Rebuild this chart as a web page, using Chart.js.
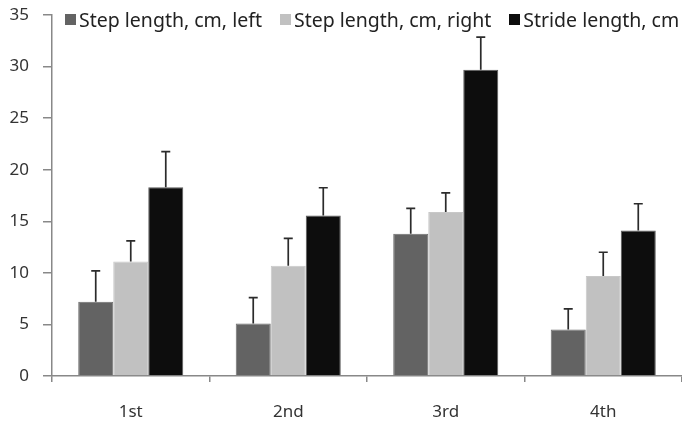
<!DOCTYPE html>
<html>
<head>
<meta charset="utf-8">
<script src="https://cdn.jsdelivr.net/npm/chart.js@4/dist/chart.umd.min.js"></script>
<style>
  html, body { margin: 0; padding: 0; background: #fff; }
  #wrap { position: relative; width: 682px; height: 422px; }
  #legend { position: absolute; left: 65px; top: 6px; display: flex; font: 19.5px "Noto Sans", sans-serif; color: #222; white-space: nowrap; }
  #legend span.item { display: flex; align-items: center; margin-right: 18px; }
  #legend i { display: inline-block; width: 11px; height: 11px; margin-right: 3px; }
</style>
</head>
<body>
<div id="wrap">
  <canvas id="c" width="682" height="422"></canvas>
  <div id="legend"></div>
</div>
<script>
const categories = ['1st', '2nd', '3rd', '4th'];
const seriesNames = ['Step length, cm, left', 'Step length, cm, right', 'Stride length, cm'];
const stepLeft = [7.2, 5.1, 13.8, 4.5];
const stepLeftErr = [3.0, 2.5, 2.45, 2.0];
const stepRight = [11.1, 10.7, 15.9, 9.7];
const stepRightErr = [2.0, 2.65, 1.85, 2.3];
const stride = [18.3, 15.55, 29.7, 14.1];
const strideErr = [3.45, 2.7, 3.15, 2.6];
const yTicks = [0, 5, 10, 15, 20, 25, 30, 35];

const colors = ['#636363', '#c1c1c1', '#0d0d0d'];
const borders = ['#6e6e6e', '#c8c8c8', '#5a5a5a'];
const values = [stepLeft, stepRight, stride];
const errors = [stepLeftErr, stepRightErr, strideErr];

// upward-only error bars with a small cap
const errorBars = {
  id: 'errorBars',
  afterDatasetsDraw(chart) {
    const ctx = chart.ctx;
    const y = chart.scales.y;
    ctx.save();
    ctx.strokeStyle = '#2b2b2b';
    ctx.lineWidth = 1.7;
    chart.data.datasets.forEach((ds, di) => {
      const meta = chart.getDatasetMeta(di);
      meta.data.forEach((bar, i) => {
        const top = y.getPixelForValue(ds.data[i]);
        const end = y.getPixelForValue(ds.data[i] + ds.err[i]);
        ctx.beginPath();
        ctx.moveTo(bar.x, top);
        ctx.lineTo(bar.x, end);
        ctx.moveTo(bar.x - 4.5, end);
        ctx.lineTo(bar.x + 4.5, end);
        ctx.stroke();
      });
    });
    ctx.restore();
  }
};

const chart = new Chart(document.getElementById('c'), {
  type: 'bar',
  data: {
    labels: categories,
    datasets: seriesNames.map((name, k) => ({
      label: name,
      data: values[k],
      err: errors[k],
      backgroundColor: colors[k],
      borderColor: borders[k],
      borderWidth: 1,
      categoryPercentage: 0.667,
      barPercentage: 1
    }))
  },
  options: {
    responsive: false,
    animation: false,
    layout: { padding: { top: 15, right: 0, left: 0, bottom: 0 } },
    scales: {
      y: {
        min: 0, max: 35,
        afterBuildTicks: s => { s.ticks = yTicks.map(v => ({ value: v })); },
        afterFit: s => { s.width = 52; s.paddingTop = 0; s.paddingBottom = 0; },
        grid: { drawOnChartArea: false, tickLength: 9, color: '#888', lineWidth: 1.5 },
        border: { color: '#888', width: 1.5 },
        ticks: { padding: 14, color: '#333', font: { family: 'Noto Sans', size: 17 } }
      },
      x: {
        afterFit: s => { s.height = 46; },
        grid: { drawOnChartArea: false, offset: true, tickLength: 6, color: '#888', lineWidth: 1.5 },
        border: { color: '#888', width: 1.5 },
        ticks: { padding: 20, color: '#333', font: { family: 'Noto Sans', size: 17 } }
      }
    },
    plugins: { legend: { display: false }, tooltip: { enabled: false } }
  },
  plugins: [errorBars]
});

const legend = document.getElementById('legend');
chart.data.datasets.forEach(ds => {
  const item = document.createElement('span');
  item.className = 'item';
  const sw = document.createElement('i');
  sw.style.background = ds.backgroundColor;
  item.appendChild(sw);
  item.appendChild(document.createTextNode(ds.label));
  legend.appendChild(item);
});
</script>
</body>
</html>
